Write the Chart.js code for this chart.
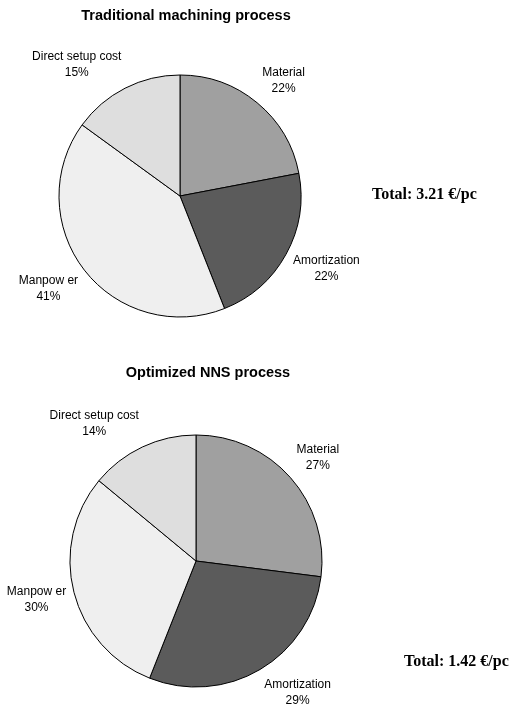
<!DOCTYPE html>
<html>
<head>
<meta charset="utf-8">
<script src="https://cdn.jsdelivr.net/npm/chart.js@4/dist/chart.umd.min.js"></script>
<style>
  html, body { margin: 0; padding: 0; background: #fff; }
  #wrap { position: relative; width: 519px; height: 707px; }
  canvas { position: absolute; left: 0; }
  #topChart { top: 0; }
  #bottomChart { top: 350px; }
</style>
</head>
<body>
<div id="wrap">
  <canvas id="topChart" width="519" height="350"></canvas>
  <canvas id="bottomChart" width="519" height="357"></canvas>
</div>
<script>
const categories = ['Material', 'Amortization', 'Manpow er', 'Direct setup cost'];
const traditionalValues = [22, 22, 41, 15];
const optimizedValues = [27, 29, 30, 14];
const sliceColors = ['#a0a0a0', '#5b5b5b', '#efefef', '#dedede'];

const traditionalTitle = 'Traditional machining process';
const optimizedTitle = 'Optimized NNS process';
const traditionalTotal = 'Total: 3.21 €/pc';
const optimizedTotal = 'Total: 1.42 €/pc';

const labelFont = '12px "Liberation Sans", Arial, sans-serif';

// draws title, outside slice labels and the total text
function piePlugin(title, titleX, titleY, total, totalX, totalY) {
	return {
		id: 'pieText',
		afterDatasetsDraw(chart) {
			const ctx = chart.ctx;
			const meta = chart.getDatasetMeta(0);
			const values = chart.data.datasets[0].data;
			const sum = values.reduce((a, b) => a + b, 0);

			ctx.save();
			ctx.fillStyle = '#000';
			ctx.textAlign = 'center';
			ctx.textBaseline = 'middle';

			ctx.font = 'bold 14.5px "Liberation Sans", Arial, sans-serif';
			ctx.fillText(title, titleX, titleY);

			ctx.font = labelFont;
			meta.data.forEach((arc, i) => {
				const mid = (arc.startAngle + arc.endAngle) / 2;
				const d = arc.outerRadius + 8;
				const ax = arc.x + Math.cos(mid) * d;
				const ay = arc.y + Math.sin(mid) * d;
				const hw = ctx.measureText(chart.data.labels[i]).width / 2;
				const hh = 16;
				const k = Math.max(-1, Math.min(1, Math.sin(mid) * 1.4));
				const cx = ax + Math.sign(Math.cos(mid)) * hw;
				const cy = ay + k * hh;
				ctx.fillText(chart.data.labels[i], cx, cy - 8);
				ctx.fillText(Math.round(values[i] / sum * 100) + '%', cx, cy + 8);
			});

			ctx.font = 'bold 16px "Liberation Serif", "Times New Roman", serif';
			ctx.textAlign = 'left';
			ctx.fillText(total, totalX, totalY);
			ctx.restore();
		}
	};
}

function makePie(id, values, padding, plugin) {
	return new Chart(document.getElementById(id), {
		type: 'pie',
		data: {
			labels: categories,
			datasets: [{
				data: values,
				backgroundColor: sliceColors,
				borderColor: '#000',
				borderWidth: 1
			}]
		},
		options: {
			responsive: false,
			animation: false,
			layout: { padding: padding },
			plugins: {
				legend: { display: false },
				tooltip: { enabled: false }
			}
		},
		plugins: [plugin]
	});
}

makePie('topChart', traditionalValues,
	{ left: 58.5, right: 217.5, top: 74.5, bottom: 32.5 },
	piePlugin(traditionalTitle, 186, 16, traditionalTotal, 372, 195));

makePie('bottomChart', optimizedValues,
	{ left: 69.5, right: 196.5, top: 84.5, bottom: 19.5 },
	piePlugin(optimizedTitle, 208, 23, optimizedTotal, 404, 312));
</script>
</body>
</html>
